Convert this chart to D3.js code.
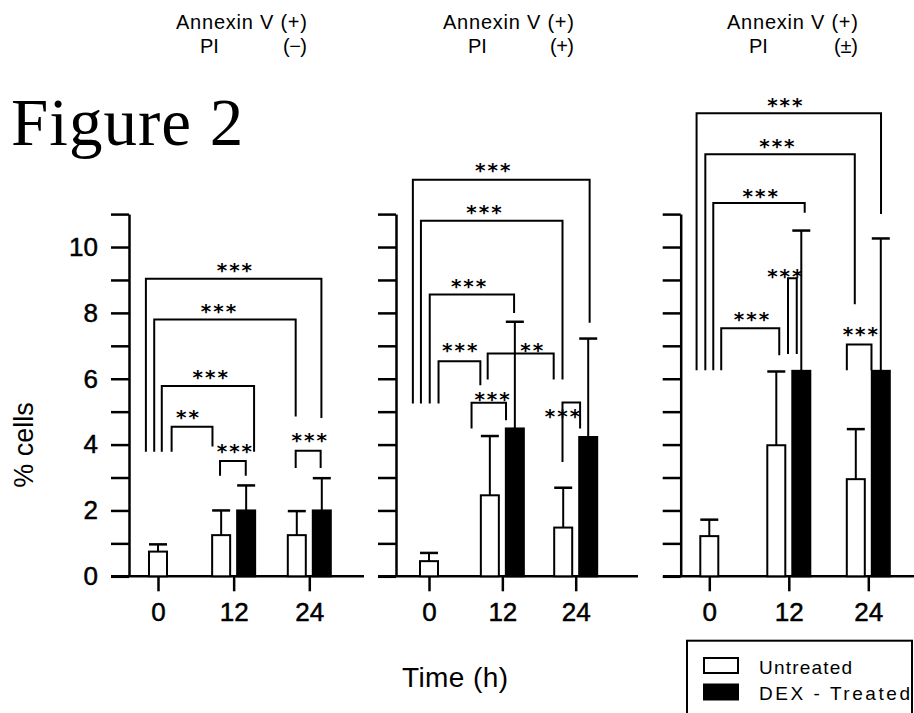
<!DOCTYPE html>
<html>
<head>
<meta charset="utf-8">
<title>Figure 2</title>
<script src="https://cdn.jsdelivr.net/npm/d3@7"></script>
<style>
  body { margin: 0; background: #fff; }
  svg { display: block; }
  .sans { font-family: Arial, "Liberation Sans", sans-serif; fill: #000; }
  .stars { font-family: "DejaVu Sans", sans-serif; font-weight: bold; font-size: 20px; letter-spacing: 2px; fill: #000; }
  .axis path, .axis line { stroke: #000; stroke-width: 2.5px; }
</style>
</head>
<body>
<script>
var width = 914, height = 713;

// ---- data ----
var times = ["0", "12", "24"];
var headTop = ["Annexin V (+)", "Annexin V (+)", "Annexin V (+)"];
var headPI = ["(\u2212)", "(+)", "(\u00b1)"];
var untreatedMean = [[0.75, 1.25, 1.25], [0.46, 2.46, 1.48], [1.22, 3.98, 2.95]];
var untreatedErr  = [[0.22, 0.75, 0.73], [0.25, 1.80, 1.21], [0.50, 2.24, 1.52]];
var dexMean = [[null, 2.0, 2.0], [null, 4.49, 4.23], [null, 6.24, 6.24]];
var dexErr  = [[null, 0.76, 0.98], [null, 3.24, 2.99], [null, 4.26, 4.02]];
var yTicks = d3.range(0, 12);
var yTickLabels = [0, 2, 4, 6, 8, 10];
var legendLabels = ["Untreated", "DEX - Treated"];

// significance brackets (a/b = ends in group-index units, y = level, la/lb = leg ends, tx/ty = label)
var brackets1 = [
  {a: -0.16, b: 2.16, y: 9.04, la: 3.78, lb: 4.81, t: "***", tx: 1.01, ty: 9.42},
  {a: -0.05, b: 1.82, y: 7.80, la: 3.78, lb: 4.85, t: "***", tx: 0.80, ty: 8.18},
  {a: 0.05, b: 1.27, y: 5.78, la: 3.78, lb: 3.78, t: "***", tx: 0.69, ty: 6.17},
  {a: 0.18, b: 0.72, y: 4.54, la: 3.78, lb: 3.94, t: "**", tx: 0.39, ty: 4.96},
  {a: 0.82, b: 1.16, y: 3.50, la: 3.05, lb: 3.05, t: "***", tx: 1.01, ty: 3.93},
  {a: 1.82, b: 2.15, y: 3.81, la: 3.29, lb: 3.29, t: "***", tx: 2.00, ty: 4.26}
];
var brackets2 = [
  {a: -0.22, b: 2.19, y: 12.04, la: 5.25, lb: 7.70, t: "***", tx: 0.87, ty: 12.46},
  {a: -0.11, b: 1.82, y: 10.80, la: 5.25, lb: 5.98, t: "***", tx: 0.75, ty: 11.18},
  {a: 0.01, b: 1.16, y: 8.56, la: 5.25, lb: 8.00, t: "***", tx: 0.54, ty: 8.95},
  {a: 0.13, b: 0.70, y: 6.53, la: 5.25, lb: 5.80, t: "***", tx: 0.42, ty: 6.99},
  {a: 0.80, b: 1.70, y: 6.77, la: 5.98, lb: 5.98, t: "**", tx: 1.40, ty: 6.99},
  {a: 0.58, b: 1.05, y: 5.27, la: 4.49, lb: 4.74, t: "***", tx: 0.86, ty: 5.51},
  {a: 1.82, b: 2.06, y: 5.28, la: 3.47, lb: 4.49, t: "***", tx: 1.82, ty: 5.00}
];
var brackets3 = [
  {a: -0.16, b: 2.16, y: 14.06, la: 6.26, lb: 11.00, t: "***", tx: 0.95, ty: 14.44},
  {a: -0.05, b: 1.83, y: 12.82, la: 6.26, lb: 8.26, t: "***", tx: 0.85, ty: 13.20},
  {a: 0.05, b: 1.20, y: 11.34, la: 6.26, lb: 11.04, t: "***", tx: 0.64, ty: 11.68},
  {a: 0.15, b: 0.88, y: 7.53, la: 6.26, lb: 6.71, t: "***", tx: 0.53, ty: 7.94},
  {a: 0.99, b: 1.10, y: 9.05, la: 6.75, lb: 6.75, t: "***", tx: 0.95, ty: 9.25},
  {a: 1.73, b: 2.04, y: 7.04, la: 6.26, lb: 6.26, t: "***", tx: 1.90, ty: 7.48}
];
var brackets = [brackets1, brackets2, brackets3];

// ---- layout ----
var panels = [
  {x0: 158, x1: 309.3, axisX: 129, baseL: 111, baseR: 364, head: 176, pi: 24},
  {x0: 429, x1: 575.7, axisX: 396, baseL: 378, baseR: 638, head: 443, pi: 25},
  {x0: 709.3, x1: 868.3, axisX: 680.7, baseL: 663, baseR: 914, head: 727, pi: 22}
];
var barW = 18, pairOff = 12.5;

var y = d3.scaleLinear().domain([0, 11]).range([576.3, 214.1]);

var svg = d3.select("body").append("svg")
  .attr("width", width)
  .attr("height", height);

svg.append("text")
  .attr("x", 11).attr("y", 145)
  .style("font-family", "'Times New Roman', 'Liberation Serif', serif")
  .style("font-size", "67px")
  .style("letter-spacing", "1px")
  .text("Figure 2");

panels.forEach(function(pn, p) {
  var xp = d3.scalePoint().domain(times).range([pn.x0, pn.x1]);
  var xi = d3.scaleLinear().domain([0, 2]).range([pn.x0, pn.x1]);
  var g = svg.append("g");

  // header
  g.append("text").attr("class", "sans")
    .attr("x", pn.head).attr("y", 29)
    .style("font-size", "20px")
    .attr("textLength", 131).attr("lengthAdjust", "spacing")
    .text(headTop[p]);
  g.append("text").attr("class", "sans")
    .attr("x", pn.head + pn.pi).attr("y", 53)
    .style("font-size", "20px")
    .text("PI");
  g.append("text").attr("class", "sans")
    .attr("x", pn.head + 131).attr("y", 53)
    .attr("text-anchor", "end")
    .style("font-size", "20px")
    .attr("textLength", 24).attr("lengthAdjust", "spacing")
    .text(headPI[p]);

  // y axis
  var ya = d3.axisLeft(y).tickValues(yTicks).tickSize(18).tickSizeOuter(0).tickPadding(13)
    .tickFormat(function(d) { return p === 0 && yTickLabels.indexOf(d) >= 0 ? d : ""; });
  g.append("g").attr("class", "axis")
    .attr("transform", "translate(" + pn.axisX + ",0)")
    .call(ya)
    .call(function(s) {
      s.selectAll("text").attr("class", "sans")
        .style("font-size", "26px").style("stroke", "#000").style("stroke-width", "0.5px");
    });

  // x axis
  g.append("line")
    .attr("x1", pn.baseL).attr("x2", pn.baseR)
    .attr("y1", y(0)).attr("y2", y(0))
    .attr("stroke", "#000").attr("stroke-width", 2.5);
  var xa = d3.axisBottom(xp).tickSize(15).tickSizeOuter(0).tickPadding(11);
  g.append("g").attr("class", "axis")
    .attr("transform", "translate(0," + y(0) + ")")
    .call(xa)
    .call(function(s) {
      s.select(".domain").remove();
      s.selectAll("text").attr("class", "sans")
        .style("font-size", "26px").style("stroke", "#000").style("stroke-width", "0.5px");
    });

  // bars
  var bars = [];
  times.forEach(function(t, i) {
    var paired = dexMean[p][i] != null;
    bars.push({c: xp(t) - (paired ? pairOff : 0), v: untreatedMean[p][i], e: untreatedErr[p][i], fill: "#fff"});
    if (paired) bars.push({c: xp(t) + pairOff, v: dexMean[p][i], e: dexErr[p][i], fill: "#000"});
  });

  var bg = g.append("g").selectAll("g").data(bars).enter().append("g");
  bg.append("line")
    .attr("x1", function(d) { return d.c; }).attr("x2", function(d) { return d.c; })
    .attr("y1", function(d) { return y(d.v); }).attr("y2", function(d) { return y(d.v + d.e); })
    .attr("stroke", "#000").attr("stroke-width", 2);
  bg.append("line")
    .attr("x1", function(d) { return d.c - barW / 2; }).attr("x2", function(d) { return d.c + barW / 2; })
    .attr("y1", function(d) { return y(d.v + d.e); }).attr("y2", function(d) { return y(d.v + d.e); })
    .attr("stroke", "#000").attr("stroke-width", 2.5);
  bg.append("rect")
    .attr("x", function(d) { return d.c - barW / 2; })
    .attr("y", function(d) { return y(d.v); })
    .attr("width", barW)
    .attr("height", function(d) { return y(0) - y(d.v); })
    .attr("fill", function(d) { return d.fill; })
    .attr("stroke", "#000").attr("stroke-width", 2);

  // brackets
  var br = g.append("g").selectAll("g").data(brackets[p]).enter().append("g");
  br.append("path")
    .attr("d", function(d) {
      return "M" + xi(d.a) + "," + y(d.la) + "V" + y(d.y) + "H" + xi(d.b) + "V" + y(d.lb);
    })
    .attr("fill", "none").attr("stroke", "#000").attr("stroke-width", 2);
  br.append("text").attr("class", "stars")
    .attr("x", function(d) { return xi(d.tx); })
    .attr("y", function(d) { return y(d.ty); })
    .attr("dx", 1).attr("dy", "0.55em")
    .attr("text-anchor", "middle")
    .text(function(d) { return d.t; });
});

// axis titles
svg.append("text").attr("class", "sans")
  .attr("transform", "translate(33,445) rotate(-90)")
  .attr("text-anchor", "middle")
  .style("font-size", "27px")
  .text("% cells");

svg.append("text").attr("class", "sans")
  .attr("x", 402).attr("y", 686.7)
  .style("font-size", "28px")
  .attr("textLength", 106).attr("lengthAdjust", "spacing")
  .text("Time (h)");

// legend
var lg = svg.append("g");
lg.append("rect")
  .attr("x", 687).attr("y", 640.7).attr("width", 225).attr("height", 90)
  .attr("fill", "#fff").attr("stroke", "#000").attr("stroke-width", 2);
var legendFill = ["#fff", "#000"];
var legendLen = [93, 151];
legendLabels.forEach(function(l, i) {
  lg.append("rect")
    .attr("x", 704).attr("y", 658 + i * 26.5)
    .attr("width", 34).attr("height", 15)
    .attr("fill", legendFill[i]).attr("stroke", "#000").attr("stroke-width", 2);
  lg.append("text").attr("class", "sans")
    .attr("x", 759).attr("y", 674 + i * 26)
    .style("font-size", "19px")
    .attr("textLength", legendLen[i]).attr("lengthAdjust", "spacing")
    .text(l);
});
</script>
</body>
</html>
